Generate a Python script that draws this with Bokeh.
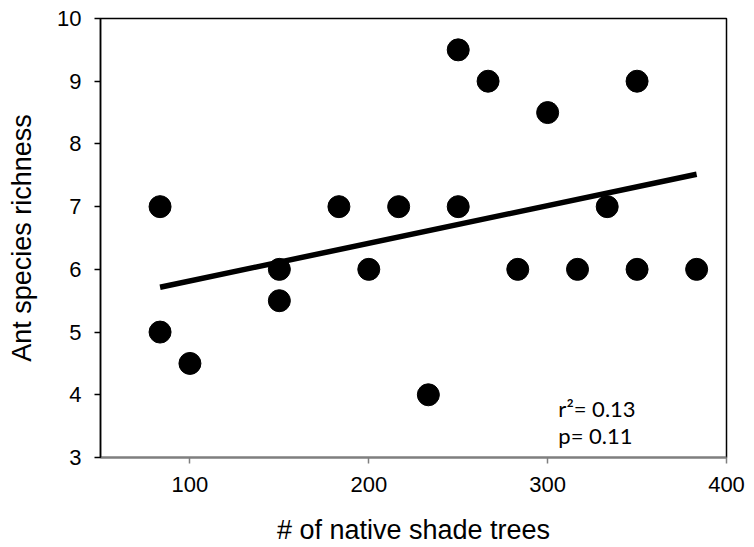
import numpy as np
from bokeh.plotting import figure
from bokeh.models import Range1d, FixedTicker, ColumnDataSource
from bokeh.core.properties import value
from bokeh.embed import file_html
from bokeh.resources import INLINE

# data
shade_trees = [83.3, 83.3, 100, 150, 150, 183.3, 200, 216.7, 233.3, 250, 250,
               266.7, 283.3, 300, 316.7, 333.3, 350, 350, 383.3]
ant_richness = [7, 5, 4.5, 6, 5.5, 7, 6, 7, 4, 9.5, 7,
                9, 6, 8.5, 6, 7, 9, 6, 6]
x_ticks = [100, 200, 300, 400]
y_ticks = [3, 4, 5, 6, 7, 8, 9, 10]
stats_lines = ["r\u00b2= 0.13", "p= 0.11"]

slope, intercept = np.polyfit(shade_trees, ant_richness, 1)
fit_x = [min(shade_trees), max(shade_trees)]
fit_y = [slope * v + intercept for v in fit_x]

p = figure(width=754, height=547, output_backend="svg", toolbar_location=None,
           x_range=Range1d(50, 400), y_range=Range1d(3, 10),
           min_border_left=100, min_border_right=28, min_border_top=18,
           min_border_bottom=90)
p.background_fill_color = "white"
p.border_fill_color = "white"
p.outline_line_color = "#000000"
p.outline_line_width = 1.5
p.grid.visible = False

p.line(fit_x, fit_y, line_width=5.5, line_color="black")
p.scatter(shade_trees, ant_richness, size=22, fill_color="black", line_color="black")

src = ColumnDataSource(dict(x=[306, 306], y=[3.78, 3.35], t=stats_lines))
p.text(x="x", y="y", text="t", source=src, text_font=value("Lato"),
       text_font_size="22px", text_color="black", text_baseline="alphabetic")

for ax in (p.xaxis[0], p.yaxis[0]):
    ax.major_label_text_font = "Liberation Sans"
    ax.major_label_text_font_size = "22px"
    ax.major_label_text_color = "black"
    ax.axis_label_text_font = "Liberation Sans"
    ax.axis_label_text_font_size = "27px"
    ax.axis_label_text_font_style = "normal"
    ax.axis_label_text_color = "black"
    ax.major_tick_out = 6
    ax.major_tick_in = 0
    ax.minor_tick_line_color = None
    ax.major_tick_line_width = 1.5

p.xaxis.ticker = FixedTicker(ticks=x_ticks)
p.yaxis.ticker = FixedTicker(ticks=y_ticks)
p.xaxis.axis_label = "# of native shade trees"
p.yaxis.axis_label = "Ant species richness"
p.xaxis.axis_line_color = "#7f7f7f"
p.xaxis.major_tick_line_color = "#7f7f7f"
p.xaxis.axis_line_width = 2
p.yaxis.axis_line_color = "black"
p.yaxis.axis_line_width = 1.5
p.xaxis.major_label_standoff = 13
p.yaxis.major_label_standoff = 13
p.xaxis.axis_label_standoff = 20
p.yaxis.axis_label_standoff = 17

open("out.html", "w").write(file_html(p, INLINE))
